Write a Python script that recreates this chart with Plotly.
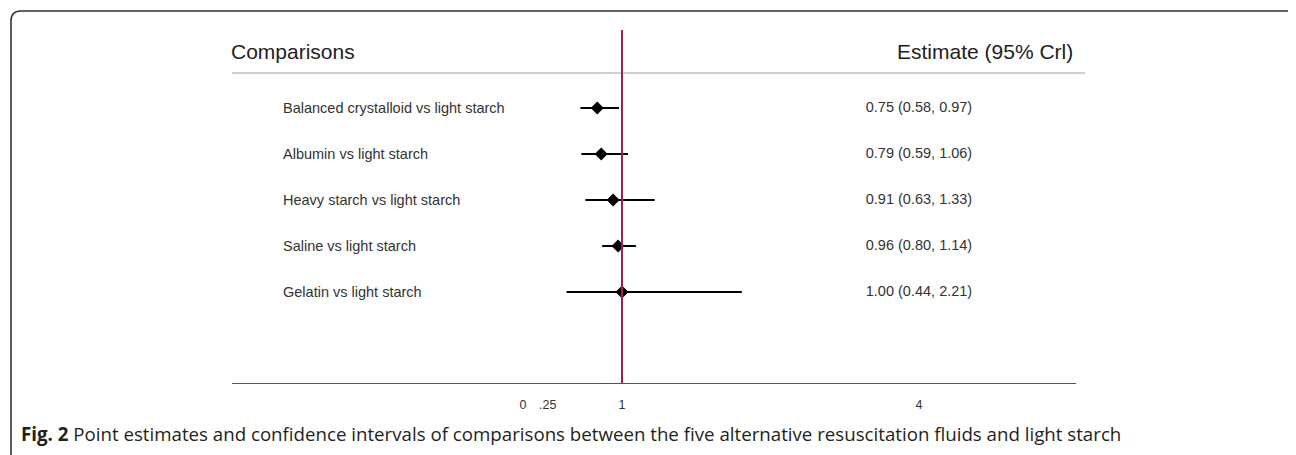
import plotly.graph_objects as go

# ---- data ----
comparisons = [
    "Balanced crystalloid vs light starch",
    "Albumin vs light starch",
    "Heavy starch vs light starch",
    "Saline vs light starch",
    "Gelatin vs light starch",
]
estimate = [0.75, 0.79, 0.91, 0.96, 1.00]
lower = [0.58, 0.59, 0.63, 0.80, 0.44]
upper = [0.97, 1.06, 1.33, 1.14, 2.21]
tick_vals = [0, 0.25, 1, 4]
tick_text = ["0", ".25", "1", "4"]
header_left = "Comparisons"
header_right = "Estimate (95% Crl)"
caption_bold = "Fig. 2"
caption_text = " Point estimates and confidence intervals of comparisons between the five alternative resuscitation fluids and light starch"

W, H = 1296, 455
rows = list(range(len(comparisons)))
est_labels = [f"{e:.2f} ({l:.2f}, {u:.2f})" for e, l, u in zip(estimate, lower, upper)]

# pixel geometry of the plotting region
px_left, px_right = 224, 1068      # x-axis line extent
px_zero, px_per_unit = 515, 99.0   # where x=0 sits, scale
axis_y = 375                       # x-axis line (pixels from top)
row0, row_step = 100, 46

x_range = [(px_left - px_zero) / px_per_unit, (px_right - px_zero) / px_per_unit]
y_range = [(axis_y - row0) / row_step, (0 - row0) / row_step]

fig = go.Figure()

# CI lines
for r, lo, hi in zip(rows, lower, upper):
    fig.add_trace(go.Scatter(x=[lo, hi], y=[r, r], mode="lines",
                             line=dict(color="black", width=2),
                             hoverinfo="skip", showlegend=False, cliponaxis=False))
# point estimates
fig.add_trace(go.Scatter(x=estimate, y=rows, mode="markers",
                         marker=dict(symbol="diamond", size=10, color="black"),
                         showlegend=False, cliponaxis=False))
# estimate text column (centred at x=4)
fig.add_trace(go.Scatter(x=[4] * len(rows), y=rows, mode="text", text=est_labels,
                         textposition="middle center",
                         textfont=dict(family="Liberation Sans, Arial", size=14.5, color="#333333"),
                         showlegend=False, cliponaxis=False, hoverinfo="skip"))

shapes = []
# reference line at 1
shapes.append(dict(type="line", xref="x", yref="paper", x0=1, x1=1,
                   y0=(H - axis_y) / H, y1=(H - 22) / H,
                   line=dict(color="#9a2346", width=2), layer="above"))
# header underline
shapes.append(dict(type="line", xref="paper", yref="paper",
                   x0=224 / W, x1=1077 / W, y0=(H - 65) / H, y1=(H - 65) / H,
                   line=dict(color="#d0d0d0", width=2), layer="below"))
# rounded frame (decoration)
r = 10
L, R, T, B = 3, 1294, 3, 457
path = (f"M {L/W},{(H-B+r)/H} L {L/W},{(H-T-r)/H} Q {L/W},{(H-T)/H} {(L+r)/W},{(H-T)/H} "
        f"L {(R-r)/W},{(H-T)/H} Q {R/W},{(H-T)/H} {R/W},{(H-T-r)/H} "
        f"L {R/W},{(H-B+r)/H} Q {R/W},{(H-B)/H} {(R-r)/W},{(H-B)/H} "
        f"L {(L+r)/W},{(H-B)/H} Q {L/W},{(H-B)/H} {L/W},{(H-B+r)/H} Z")
shapes.append(dict(type="path", xref="paper", yref="paper", path=path,
                   line=dict(color="#333333", width=1.6), fillcolor="rgba(0,0,0,0)"))

annotations = []
for rr, name in zip(rows, comparisons):
    annotations.append(dict(x=273 / W, xref="paper", y=rr, yref="y", text=name,
                            showarrow=False, xanchor="left", yanchor="middle",
                            font=dict(family="Liberation Sans, Arial", size=14.5, color="#333333")))
annotations.append(dict(x=221 / W, xref="paper", y=(H - 44) / H, yref="paper", text=header_left,
                        showarrow=False, xanchor="left", yanchor="middle",
                        font=dict(family="Liberation Sans, Arial", size=21, color="#222222")))
annotations.append(dict(x=1067 / W, xref="paper", y=(H - 44) / H, yref="paper", text=header_right,
                        showarrow=False, xanchor="right", yanchor="middle",
                        font=dict(family="Liberation Sans, Arial", size=21, color="#222222")))
annotations.append(dict(x=11 / W, xref="paper", y=(H - 425) / H, yref="paper",
                        text=f"<b>{caption_bold}</b>{caption_text}",
                        showarrow=False, xanchor="left", yanchor="middle",
                        font=dict(family="Open Sans, Noto Sans", size=18.7, color="#231f20")))

fig.update_layout(
    width=W, height=H,
    margin=dict(l=0, r=0, t=0, b=0),
    paper_bgcolor="white", plot_bgcolor="white",
    shapes=shapes, annotations=annotations,
    xaxis=dict(domain=[px_left / W, px_right / W], range=x_range,
               showline=True, linecolor="#555555", linewidth=1.2,
               showgrid=False, zeroline=False, ticks="",
               tickvals=tick_vals, ticktext=tick_text,
               tickfont=dict(family="Liberation Sans, Arial", size=12.5, color="#333333"),
               ticklabelstandoff=10, fixedrange=True),
    yaxis=dict(domain=[(H - axis_y) / H, 1], range=y_range,
               visible=False, showgrid=False, zeroline=False, fixedrange=True),
)

fig.write_html("out.html")
